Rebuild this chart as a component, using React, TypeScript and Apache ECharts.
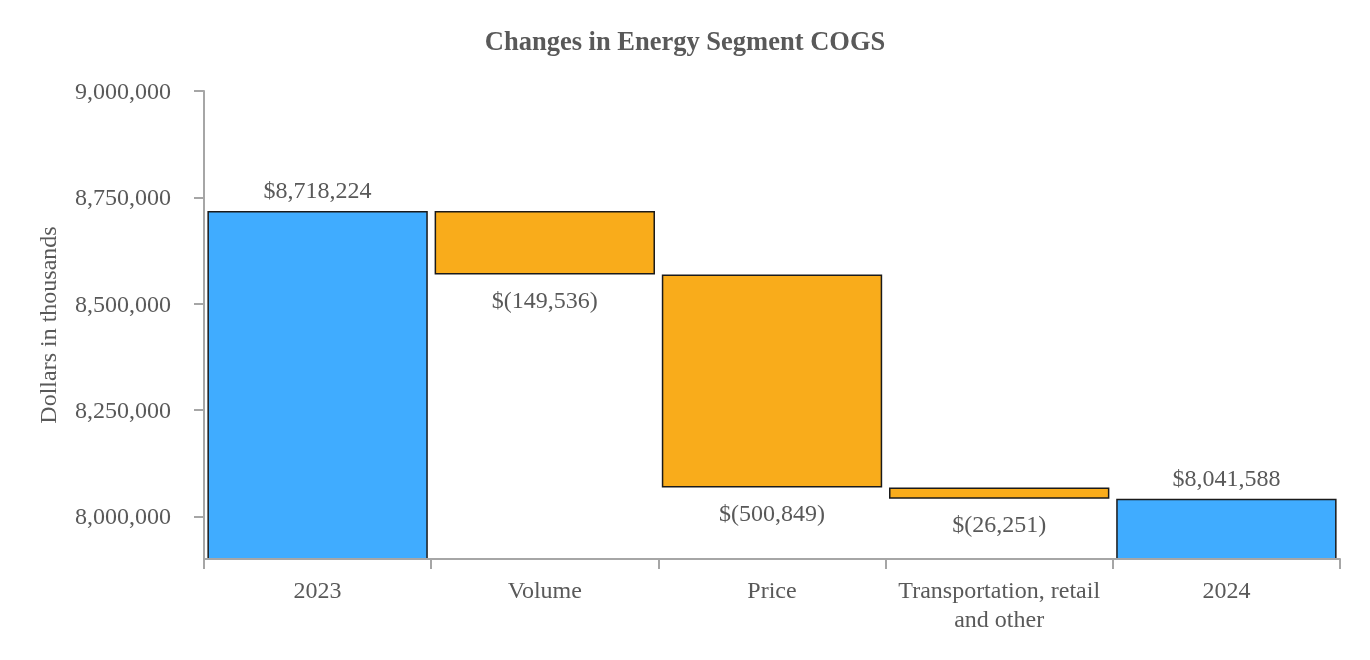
import React, { useEffect, useRef } from "react";
import * as echarts from "echarts";

const categories = ["2023", "Volume", "Price", "Transportation, retail\nand other", "2024"];
const baseValues = [0, 8568688, 8067839, 8041588, 0];
const barValues = [8718224, 149536, 500849, 26251, 8041588];
const isTotal = [true, false, false, false, true];
const yTicks = [8000000, 8250000, 8500000, 8750000, 9000000];

const BLUE = "#40ACFF";
const ORANGE = "#F9AC1B";
const TEXT = "#595959";
const AXIS = "#A6A6A6";
const FONT = "'Liberation Serif', 'Times New Roman', serif";

const fmtNum = (v: number) => v.toLocaleString("en-US");

export default function App() {
  const ref = useRef<HTMLDivElement>(null);
  useEffect(() => {
    if (!ref.current) return;
    const chart = echarts.init(ref.current, undefined, { renderer: "svg" });
    chart.setOption({
      animation: false,
      title: {
        text: "Changes in Energy Segment COGS",
        left: "center",
        top: 22,
        textStyle: { fontFamily: FONT, fontSize: 26.5, fontWeight: "bold", color: TEXT },
      },
      grid: { left: 204, right: 30, top: 91, bottom: 101 },
      xAxis: {
        type: "category",
        data: categories,
        z: 5,
        axisLine: { lineStyle: { color: AXIS, width: 2 } },
        axisTick: { show: true, length: 10, lineStyle: { color: AXIS, width: 2 } },
        axisLabel: {
          fontFamily: FONT,
          fontSize: 24,
          color: TEXT,
          margin: 16,
          lineHeight: 29,
          interval: 0,
        },
      },
      yAxis: {
        type: "value",
        min: 7900000,
        max: 9000000,
        name: "Dollars in thousands",
        nameLocation: "middle",
        nameGap: 144,
        nameRotate: 90,
        nameTextStyle: { fontFamily: FONT, fontSize: 24, color: TEXT },
        axisLine: { show: true, lineStyle: { color: AXIS, width: 2 } },
        axisTick: { show: true, length: 10, customValues: yTicks, lineStyle: { color: AXIS, width: 2 } },
        splitLine: { show: false },
        axisLabel: {
          customValues: yTicks,
          fontFamily: FONT,
          fontSize: 24,
          color: TEXT,
          margin: 33,
          formatter: (v: number) => fmtNum(v),
        },
      },
      series: [
        {
          type: "bar",
          stack: "w",
          data: baseValues,
          itemStyle: { color: "transparent", borderWidth: 0 },
          silent: true,
          barWidth: "97%",
        },
        {
          type: "bar",
          stack: "w",
          barWidth: "97%",
          data: barValues.map((v, i) => ({
            value: v,
            itemStyle: {
              color: isTotal[i] ? BLUE : ORANGE,
              borderColor: "#1a1a1a",
              borderWidth: 1.5,
            },
            label: {
              show: true,
              position: isTotal[i] ? "top" : "bottom",
              distance: isTotal[i] ? 9 : 13,
              fontFamily: FONT,
              fontSize: 24,
              color: TEXT,
              formatter: isTotal[i] ? "$" + fmtNum(v) : "$(" + fmtNum(v) + ")",
            },
          })),
        },
      ],
    });
    return () => chart.dispose();
  }, []);
  return <div ref={ref} style={{ position: "fixed", left: 0, top: 0, width: 1370, height: 660 }} />;
}
